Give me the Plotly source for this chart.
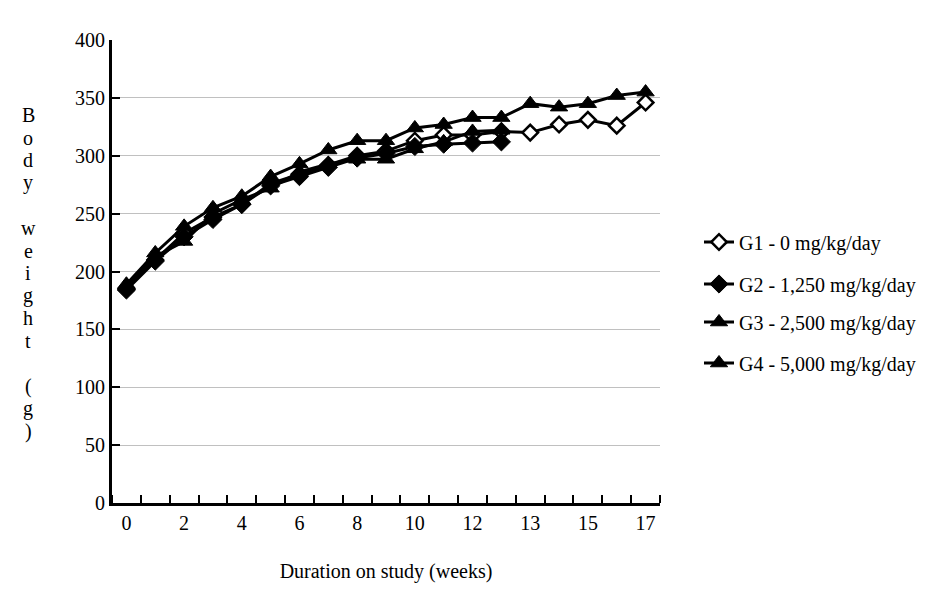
import plotly.graph_objects as go

# ---- data ----
x_labels = ["0", "", "2", "", "4", "", "6", "", "8", "", "10", "", "12", "", "13", "", "15", "", "17"]
g1 = [185, 210, 233, 247, 258, 276, 284, 292, 300, 304, 313, 318, 318, 321, 320, 327, 331, 326, 346]
g2 = [184, 209, 230, 245, 258, 274, 282, 290, 298, 302, 308, 310, 311, 312, None, None, None, None, None]
g3 = [188, 213, 226, 250, 262, 272, 286, 293, 297, 297, 306, 312, 321, 322, None, None, None, None, None]
g4 = [189, 216, 239, 255, 265, 282, 293, 305, 313, 313, 324, 327, 333, 333, 345, 342, 345, 352, 355]
names = ["G1 - 0 mg/kg/day", "G2 - 1,250 mg/kg/day", "G3 - 2,500 mg/kg/day", "G4 - 5,000 mg/kg/day"]
y_ticks = [0, 50, 100, 150, 200, 250, 300, 350, 400]
y_title = ["B", "o", "d", "y", "", "w", "e", "i", "g", "h", "t", "", "(", "g", ")"]

idx = list(range(len(x_labels)))
FONT = "Liberation Serif"

fig = go.Figure()
series = [g1, g2, g3, g4]
markers = [
    dict(symbol="diamond", size=12, color="white", line=dict(color="black", width=2.5)),
    dict(symbol="diamond", size=14, color="black", line=dict(color="black", width=1)),
    dict(symbol="triangle-up", size=15, color="black", line=dict(color="black", width=1)),
    dict(symbol="triangle-up", size=15, color="black", line=dict(color="black", width=1)),
]
legend_ids = ["legend", "legend2", "legend3", "legend4"]
for s, n, m, lg in zip(series, names, markers, legend_ids):
    fig.add_trace(go.Scatter(
        x=idx, y=s, name=n, mode="lines+markers",
        line=dict(color="black", width=3), marker=m,
        legend=lg, connectgaps=False,
    ))

legend_y_px = [242, 284, 322, 363]
leg_common = dict(xref="paper", yref="paper", xanchor="left", yanchor="middle",
                  font=dict(family=FONT, size=20, color="black"),
                  bgcolor="rgba(0,0,0,0)", borderwidth=0)
layout_legends = {}
for lg, py in zip(legend_ids, legend_y_px):
    layout_legends[lg] = dict(x=(699 - 112) / 548, y=(503 - py) / 463, **leg_common)

minor_vals = [i - 0.5 for i in idx] + [idx[-1] + 0.5]

fig.update_layout(
    width=940, height=597,
    margin=dict(l=112, r=280, t=40, b=94),
    plot_bgcolor="white", paper_bgcolor="white",
    font=dict(family=FONT, size=20, color="black"),
    showlegend=True,
    **layout_legends,
)
fig.update_xaxes(
    range=[-0.5, len(idx) - 0.5],
    tickmode="array",
    tickvals=[i for i, t in zip(idx, x_labels) if t],
    ticktext=[t for t in x_labels if t],
    ticks="", showgrid=False, zeroline=False,
    showline=True, linecolor="black", linewidth=3,
    tickfont=dict(family=FONT, size=20, color="black"),
    minor=dict(tickmode="array", tickvals=minor_vals, ticks="inside", ticklen=8,
               tickwidth=2, tickcolor="black", showgrid=False),
    title=dict(text="Duration on study (weeks)", font=dict(family=FONT, size=20, color="black"),
               standoff=31),
)
fig.update_yaxes(
    range=[0, 400],
    tickmode="array", tickvals=y_ticks,
    ticks="inside", ticklen=8, tickwidth=2, tickcolor="black",
    showgrid=True, gridcolor="#c0c0c0", gridwidth=1, zeroline=False,
    showline=True, linecolor="black", linewidth=3,
    tickfont=dict(family=FONT, size=20, color="black"),
)

for k, ch in enumerate(y_title):
    if not ch:
        continue
    py = 115 + 22.6 * k
    fig.add_annotation(
        text=ch, xref="paper", yref="paper",
        x=(28 - 112) / 548, y=(503 - py) / 463,
        xanchor="center", yanchor="middle", showarrow=False,
        font=dict(family=FONT, size=20, color="black"),
    )

fig.write_html("out.html")
